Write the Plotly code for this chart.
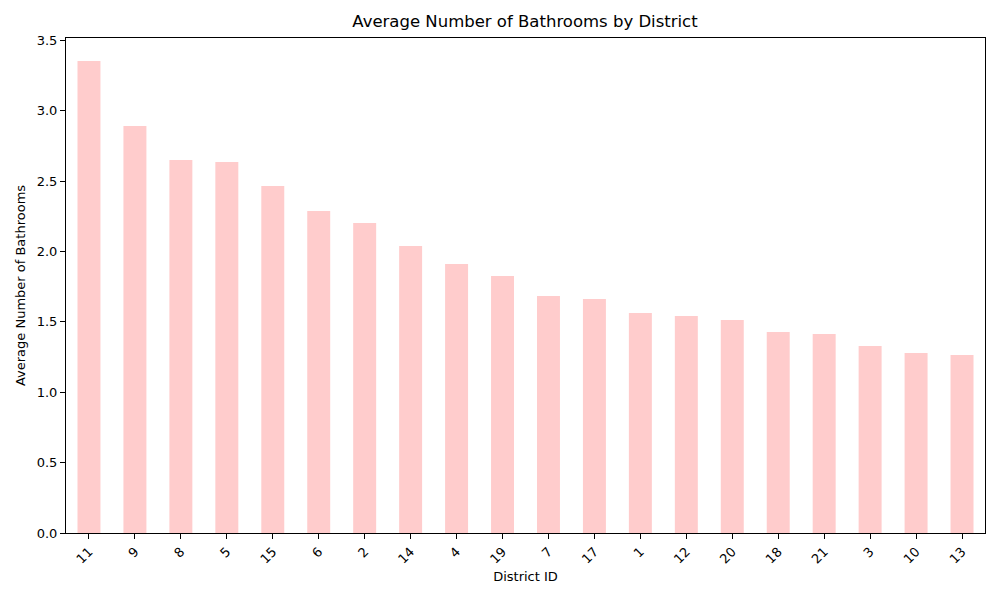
import plotly.graph_objects as go

districts = ["11", "9", "8", "5", "15", "6", "2", "14", "4", "19", "7", "17", "1", "12", "20", "18", "21", "3", "10", "13"]
avg_bathrooms = [3.352, 2.891, 2.649, 2.635, 2.464, 2.287, 2.202, 2.038, 1.911, 1.825,
                 1.683, 1.662, 1.563, 1.541, 1.513, 1.428, 1.413, 1.328, 1.278, 1.264]

font = "DejaVu Sans"
fig = go.Figure(go.Bar(x=districts, y=avg_bathrooms, marker=dict(color="#ffcccc", line=dict(width=0)), width=0.5))
fig.update_layout(
    width=1000, height=600,
    margin=dict(l=66, r=15, t=38, b=67),
    plot_bgcolor="white", paper_bgcolor="white",
    font=dict(family=font, size=13, color="black"),
    title=dict(text="Average Number of Bathrooms by District", x=0.525, xanchor="center", y=1 - 15/600, yanchor="top",
               font=dict(size=16.5, family=font, color="black")),
    showlegend=False,
    bargap=0.5,
)
fig.update_xaxes(type="category", range=[-0.5, 19.5], tickangle=-45, ticks="outside", ticklen=5, tickcolor="black",
                 showline=True, linecolor="black", linewidth=1, mirror=True, showgrid=False,
                 title=dict(text="District ID", font=dict(size=13), standoff=6),
                 tickfont=dict(size=13))
fig.update_yaxes(range=[0, 3.516], tickvals=[0, 0.5, 1, 1.5, 2, 2.5, 3, 3.5], tickformat=".1f",
                 ticks="outside", ticklen=5, tickcolor="black",
                 showline=True, linecolor="black", linewidth=1, mirror=True, showgrid=False, zeroline=False,
                 title=dict(text="Average Number of Bathrooms", font=dict(size=13), standoff=8),
                 tickfont=dict(size=13))
fig.write_html("out.html", config={"displayModeBar": False},
               post_script="document.body.style.margin='0';document.body.style.padding='0';")
